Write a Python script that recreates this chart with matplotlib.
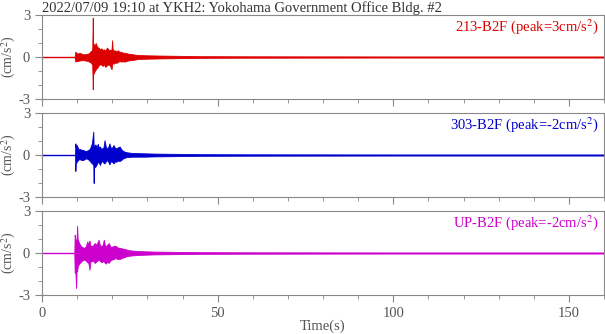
#! /usr/bin/env python3
'''Three-channel acceleration record, YKH2 B2F, 2022/07/09 19:10.'''

import numpy as np
import matplotlib
matplotlib.use('Agg')
import matplotlib.pyplot as plt
from matplotlib.ticker import MultipleLocator

plt.rcParams['font.family'] = ['Liberation Serif', 'DejaVu Serif']
plt.rcParams['mathtext.fontset'] = 'stix'
plt.rcParams['axes.unicode_minus'] = False

title = '2022/07/09 19:10 at YKH2: Yokohama Government Office Bldg. #2'
names = ['213-B2F', '303-B2F', 'UP-B2F']
peaks = ['3', '-2', '-2']
colors = ['#dd0000', '#0000cc', '#cc00cc']

# envelope of each trace (upper / lower extremes, cm/s^2)
t_213 = [0, 9.3, 9.5, 9.8, 10.2, 10.7, 11.2, 11.7, 12.1, 12.6,
         13.1, 13.5, 13.9, 14.3, 14.45, 14.55, 14.7, 15.0, 15.3, 15.5,
         15.8, 16.1, 16.5, 16.9, 17.3, 17.6, 18.0, 18.5, 18.9, 19.3,
         19.8, 19.95, 20.1, 20.4, 20.7, 21.2, 21.6, 22.1, 22.6, 23.0,
         23.5, 24.0, 24.5, 25.2, 25.9, 27.3, 30.2, 34.0, 39.7, 45,
         60, 100, 160]
hi_213 = [.02, .02, .38, .30, .24, .30, .24, .20, .19, .22,
          .24, .30, .43, .50, 2.8, .90, .95, .80, 1.0, .85,
          .70, .67, .55, .62, .50, .55, .45, .67, .55, .48,
          .55, 1.2, .60, .45, .48, .40, .48, .35, .38, .30,
          .31, .28, .24, .22, .19, .14, .12, .10, .08, .06,
          .05, .04, .04]
lo_213 = [-.02, -.02, -.33, -.28, -.29, -.24, -.24, -.22, -.24, -.26,
          -.29, -.35, -.40, -.55, -2.3, -1.1, -1.2, -1.0, -.90, -.80,
          -.76, -.60, -.52, -.55, -.64, -.50, -.71, -.60, -.52, -.60,
          -.88, -.50, -.45, -.48, -.40, -.42, -.35, -.29, -.33, -.30,
          -.33, -.29, -.25, -.23, -.21, -.14, -.12, -.10, -.08, -.06,
          -.05, -.04, -.04]

t_303 = [0, 9.4, 9.5, 9.6, 9.9, 10.3, 10.7, 11.2, 11.7, 12.2,
         12.6, 13.1, 13.6, 14.2, 14.6, 14.7, 14.8, 15.2, 15.5, 15.9,
         16.2, 16.5, 16.8, 17.2, 17.5, 17.8, 18.2, 18.6, 18.9, 19.2,
         19.6, 20.0, 20.4, 20.8, 21.2, 21.6, 22.1, 22.6, 23.1, 23.7,
         24.3, 25.9, 29.2, 32.0, 38.7, 45, 60, 100, 160]
hi_303 = [.02, .02, .83, .55, .71, .45, .43, .38, .36, .30,
          .29, .35, .43, .83, 1.67, .70, .60, .76, .55, .80,
          .50, .60, .45, .48, .55, 1.05, .55, .48, .60, .83,
          .50, .55, .71, .50, .48, .55, .60, .40, .29, .22,
          .19, .14, .12, .10, .08, .06, .05, .04, .04]
lo_303 = [-.02, -.02, -1.14, -.60, -.48, -.35, -.29, -.36, -.36, -.28,
          -.24, -.30, -.43, -.60, -.70, -2.0, -.90, -.83, -.70, -.48,
          -.55, -.71, -.50, -.43, -.55, -.60, -.45, -.36, -.50, -.67,
          -.43, -.50, -.60, -.45, -.48, -.40, -.43, -.35, -.24, -.18,
          -.14, -.12, -.12, -.10, -.08, -.06, -.05, -.04, -.04]

t_up = [0, 9.2, 9.3, 9.5, 9.7, 9.85, 10.0, 10.15, 10.4, 10.8,
        11.2, 11.7, 12.1, 12.5, 12.9, 13.2, 13.5, 13.8, 14.0, 14.5,
        15.0, 15.5, 16.1, 16.5, 16.9, 17.3, 17.6, 17.9, 18.2, 18.6,
        19.0, 19.4, 19.7, 20.3, 20.9, 21.5, 22.1, 22.8, 23.5, 24.2,
        25.0, 27.3, 32.0, 38.7, 45, 60, 100, 160]
hi_up = [.02, .02, 1.3, .95, .95, 1.0, 1.95, 1.0, .83, .60,
         .48, .40, .36, .50, .83, .60, .90, .55, .48, .55,
         .71, .60, .95, .55, .48, .60, .95, .55, .48, .60,
         .71, .50, .43, .50, .52, .40, .36, .33, .29, .24,
         .19, .14, .10, .08, .06, .05, .04, .04]
lo_up = [-.02, -.02, -1.4, -1.3, -2.5, -1.2, -1.3, -1.0, -.83, -.70,
         -.60, -.50, -.48, -.55, -.67, -.70, -1.2, -.60, -.60, -.55,
         -.71, -.60, -.48, -.55, -.67, -.60, -.60, -.70, -.76, -.60,
         -.71, -.55, -.48, -.45, -.36, -.43, -.43, -.35, -.29, -.22,
         -.19, -.14, -.10, -.08, -.06, -.05, -.04, -.04]

traces = [(t_213, hi_213, lo_213), (t_303, hi_303, lo_303), (t_up, hi_up, lo_up)]

grey = '#888888'
fig = plt.figure(figsize=(6.05, 3.34), dpi=100)
tops = [15, 113, 211]
for i, (t, hi, lo) in enumerate(traces):
    ax = fig.add_axes([42 / 605, 1 - (tops[i] + 84) / 334, 562 / 605, 84 / 334])
    ax.fill_between(t, lo, hi, color=colors[i], lw=0.6)
    ax.set_xlim(0, 160)
    ax.set_ylim(-3, 3)
    ax.xaxis.set_major_locator(MultipleLocator(50))
    ax.xaxis.set_minor_locator(MultipleLocator(10))
    ax.set_yticks([-3, 0, 3])
    ax.yaxis.set_minor_locator(MultipleLocator(1))
    ax.tick_params(which='both', colors=grey, labelcolor='#555555', labelsize=10.5)
    ax.tick_params(which='major', length=5)
    ax.tick_params(which='minor', length=3)
    for s in ax.spines.values():
        s.set_color(grey)
    ax.set_ylabel('(cm/s$^2$)', color='#555555', fontsize=10)
    ax.yaxis.set_label_coords(-0.042, 0.5)
    ax.text(0.99, 0.97, '%s (peak=%scm/s$^2$)' % (names[i], peaks[i]),
            transform=ax.transAxes, ha='right', va='top',
            color=colors[i], fontsize=10.5)
    if i < 2:
        ax.set_xticklabels([])
    else:
        ax.set_xlabel('Time(s)', color='#555555', fontsize=10.5, labelpad=0)
    if i == 0:
        ax.set_title(title, loc='left', color='#333333', fontsize=10.5, pad=2)

fig.savefig('out.png', dpi=100)
